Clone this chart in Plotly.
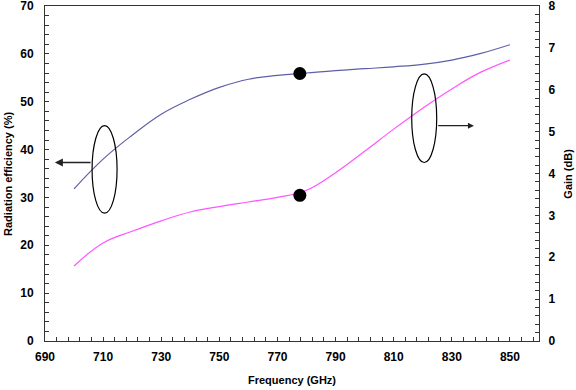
import plotly.graph_objects as go

freq = [700, 710, 720, 730, 740, 750, 760, 770, 780, 790, 800, 810, 820, 830, 840, 850]
efficiency = [31.8, 38.0, 43.0, 47.4, 50.5, 53.0, 54.7, 55.5, 56.0, 56.5, 56.9, 57.3, 57.8, 58.7, 60.1, 61.9]
gain = [1.79, 2.34, 2.62, 2.87, 3.08, 3.21, 3.32, 3.43, 3.60, 4.02, 4.53, 5.06, 5.56, 6.02, 6.42, 6.71]

marker_freq = [777.7]
marker_eff = [55.9]
marker_gain = [3.48]

x_ticks = [690, 710, 730, 750, 770, 790, 810, 830, 850]

FONT = "Liberation Sans, Arial, sans-serif"
AX = "#333333"

fig = go.Figure()
fig.add_trace(go.Scatter(x=freq, y=efficiency, mode="lines",
                         line=dict(color="#5f5fa8", width=1.2, shape="spline", smoothing=1.2),
                         showlegend=False, hoverinfo="skip", yaxis="y"))
fig.add_trace(go.Scatter(x=freq, y=gain, mode="lines",
                         line=dict(color="#ff55ff", width=1.2, shape="spline", smoothing=1.2),
                         showlegend=False, hoverinfo="skip", yaxis="y2"))
fig.add_trace(go.Scatter(x=marker_freq, y=marker_eff, mode="markers",
                         marker=dict(color="black", size=13, symbol="circle"), showlegend=False,
                         hoverinfo="skip", yaxis="y"))
fig.add_trace(go.Scatter(x=marker_freq, y=marker_gain, mode="markers",
                         marker=dict(color="black", size=13, symbol="circle"), showlegend=False,
                         hoverinfo="skip", yaxis="y2"))

tickfont = dict(family=FONT, size=12, color="black", weight="bold")
titlefont = dict(family=FONT, size=11, color="black", weight="bold")

fig.update_layout(
    width=576, height=390,
    margin=dict(l=45, r=37, t=6, b=49, autoexpand=False),
    plot_bgcolor="white", paper_bgcolor="white",
    xaxis=dict(range=[690, 860], tickvals=x_ticks, ticks="inside", ticklen=4, tickcolor=AX,
               showline=True, linecolor=AX, linewidth=1, mirror=True, showgrid=False, zeroline=False,
               tickfont=tickfont, ticklabelstandoff=5, automargin=False, ticklabeloverflow="allow",
               minor=dict(dtick=4, tick0=690, ticks="inside", ticklen=4, tickcolor=AX)),
    yaxis=dict(range=[0, 70], dtick=10, ticks="inside", ticklen=4, tickcolor=AX,
               showline=True, linecolor=AX, linewidth=1, showgrid=False, zeroline=False,
               tickfont=tickfont, ticklabelstandoff=8, automargin=False, ticklabeloverflow="allow",
               minor=dict(dtick=2, ticks="inside", ticklen=4, tickcolor=AX)),
    yaxis2=dict(range=[0, 8], dtick=1, overlaying="y", side="right", ticks="inside", ticklen=4, tickcolor=AX,
                showline=True, linecolor=AX, linewidth=1, showgrid=False, zeroline=False,
                tickfont=tickfont, ticklabelstandoff=6, automargin=False, ticklabeloverflow="allow",
                minor=dict(dtick=0.2, ticks="inside", ticklen=4, tickcolor=AX)),
)

# axis titles
fig.add_annotation(text="Frequency (GHz)", xref="paper", yref="paper", x=0.5, y=-0.115,
                   xanchor="center", yanchor="middle", showarrow=False, font=titlefont)
fig.add_annotation(text="Radiation efficiency (%)", xref="paper", yref="paper", x=-0.076, y=0.5,
                   xanchor="center", yanchor="middle", textangle=-90, showarrow=False, font=titlefont)
fig.add_annotation(text="Gain (dB)", xref="paper", yref="paper", x=1.057, y=0.5,
                   xanchor="center", yanchor="middle", textangle=-90, showarrow=False, font=titlefont)

# ellipses marking the curves
fig.add_shape(type="circle", xref="x", yref="y", x0=706.2, x1=714.8, y0=26.7, y1=45.0,
              line=dict(color="black", width=1.2))
fig.add_shape(type="circle", xref="x", yref="y", x0=816.2, x1=824.8, y0=37.3, y1=55.8,
              line=dict(color="black", width=1.2))

# arrows pointing to the relevant axis
fig.add_annotation(x=693.4, y=37.3, ax=706.2, ay=37.3, xref="x", yref="y", axref="x", ayref="y",
                   text="", showarrow=True, arrowhead=2, arrowsize=1, arrowwidth=1.6, arrowcolor="#222222")
fig.add_annotation(x=837.6, y=45.0, ax=824.8, ay=45.0, xref="x", yref="y", axref="x", ayref="y",
                   text="", showarrow=True, arrowhead=2, arrowsize=1, arrowwidth=1.2, arrowcolor="#222222")

fig.write_html("out.html", config={"displayModeBar": False},
               post_script="document.body.style.margin='0';document.body.style.overflow='hidden';")
